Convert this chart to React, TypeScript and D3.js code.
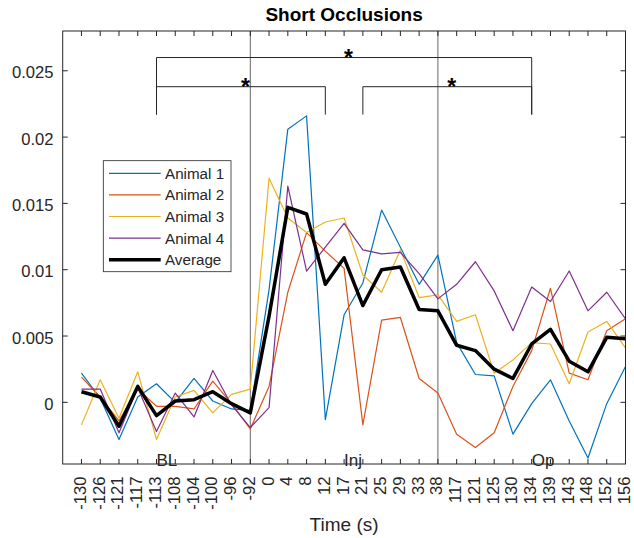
import React from "react";
import * as d3 from "d3";

const timeLabels = ["-130","-126","-121","-117","-113","-108","-104","-100","-96","-92","0","4","8","12","17","21","25","29","33","38","117","121","125","130","134","139","143","148","152","156"];

const animal1 = [0.0022,0.0003,-0.0028,0.0004,0.0014,0.0000,0.0018,0.0001,-0.0005,-0.0006,0.0085,0.0206,0.0216,-0.0013,0.0066,0.0090,0.0145,0.0117,0.0089,0.0111,0.0045,0.0021,0.0020,-0.0024,-0.0001,0.0017,-0.0014,-0.0042,-0.0001,0.0027];
const animal2 = [0.0019,0.0004,-0.0014,0.0010,-0.0003,-0.0003,-0.0005,0.0016,-0.0001,-0.0020,0.0012,0.0083,0.0128,0.0114,0.0101,-0.0017,0.0062,0.0064,0.0018,0.0007,-0.0024,-0.0034,-0.0023,0.0012,0.0039,0.0086,0.0022,0.0017,0.0054,0.0063];
const animal3 = [-0.0017,0.0017,-0.0012,0.0023,-0.0028,0.0004,0.0009,-0.0008,0.0006,0.0010,0.0169,0.0139,0.0128,0.0136,0.0139,0.0096,0.0083,0.0115,0.0079,0.0081,0.0061,0.0066,0.0022,0.0032,0.0045,0.0044,0.0014,0.0053,0.0061,0.0041];
const animal4 = [0.0010,0.0010,-0.0023,0.0011,-0.0022,0.0007,-0.0011,0.0024,-0.0002,-0.0019,-0.0004,0.0163,0.0099,0.0117,0.0135,0.0115,0.0112,0.0113,0.0097,0.0078,0.0089,0.0106,0.0084,0.0054,0.0087,0.0076,0.0099,0.0069,0.0083,0.0063];
const average = [0.0008,0.0004,-0.0018,0.0012,-0.0010,0.0001,0.0002,0.0008,-0.0001,-0.0008,0.0065,0.0147,0.0142,0.0089,0.0109,0.0073,0.0100,0.0102,0.0070,0.0069,0.0043,0.0039,0.0025,0.0018,0.0044,0.0055,0.0031,0.0023,0.0049,0.0048];

const seriesNames = ["Animal 1","Animal 2","Animal 3","Animal 4","Average"];
const seriesColors = ["#0072BD","#D95319","#EDB120","#7E2F8E","#000000"];
const seriesWidths = [1.2,1.2,1.2,1.2,3.5];
const seriesData = [animal1, animal2, animal3, animal4, average];

const yTicks = [0, 0.005, 0.01, 0.015, 0.02, 0.025];
const yTickLabels = ["0","0.005","0.01","0.015","0.02","0.025"];

const phaseLabels = ["BL","Inj","Op"];
const phasePositions = [5, 15, 25];
const phaseLines = [10, 20];

// significance brackets: [start pos, end pos, bar level, leg bottom]
const brackets = [
  [5, 25, 0.026, 0.0217],
  [5, 14, 0.0238, 0.0217],
  [16, 25, 0.0238, 0.0217],
];

const FONT = "'Liberation Sans', Arial, Helvetica, sans-serif";
const AX = "#262626";

export default function App() {
  const L = 62.7, R = 625.5, T = 31, B = 464;
  const x = d3.scaleLinear().domain([0, 30]).range([L, R]);
  const y = d3.scaleLinear().domain([-0.00465, 0.028]).range([B, T]);
  const line = d3.line<number>().x((_, i) => x(i + 1)).y((v) => y(v));
  const positions = d3.range(1, 31);

  return (
    <svg width={634} height={538} style={{ position: "absolute", left: 0, top: 0, background: "#fff" }} fontFamily={FONT}>
      <rect x={0} y={0} width={634} height={538} fill="#fff" />
      {phaseLines.map((p) => (
        <line key={p} x1={x(p)} x2={x(p)} y1={T} y2={B} stroke="#404040" strokeWidth={0.8} />
      ))}
      {seriesData.map((d, i) => (
        <path key={i} d={line(d) || ""} fill="none" stroke={seriesColors[i]} strokeWidth={seriesWidths[i]} strokeLinejoin="round" />
      ))}
      {brackets.map((b, i) => {
        const [s, e, lvl, bot] = b;
        const p = `M${x(s)},${y(bot)}V${y(lvl)}H${x(e)}V${y(bot)}`;
        return (
          <g key={i}>
            <path d={p} fill="none" stroke={AX} strokeWidth={1} />
            <text x={x((s + e) / 2)} y={y(lvl) + 8.5} fontSize={23} fontWeight="bold" fill="#000">*</text>
          </g>
        );
      })}
      <rect x={L} y={T} width={R - L} height={B - T} fill="none" stroke={AX} strokeWidth={1} />
      {positions.map((p) => (
        <g key={p}>
          <line x1={x(p)} x2={x(p)} y1={B} y2={B - 5} stroke={AX} strokeWidth={1} />
          <line x1={x(p)} x2={x(p)} y1={T} y2={T + 5} stroke={AX} strokeWidth={1} />
          <text transform={`translate(${x(p) + 4.5},${476.5}) rotate(-90)`} textAnchor="end" fontSize={16.6} fill={AX}>
            {timeLabels[p - 1]}
          </text>
        </g>
      ))}
      {yTicks.map((v, i) => (
        <g key={v}>
          <line x1={L} x2={L + 5} y1={y(v)} y2={y(v)} stroke={AX} strokeWidth={1} />
          <line x1={R} x2={R - 5} y1={y(v)} y2={y(v)} stroke={AX} strokeWidth={1} />
          <text x={53.5} y={y(v) + 7.5} textAnchor="end" fontSize={16.6} fill={AX}>{yTickLabels[i]}</text>
        </g>
      ))}
      {phaseLabels.map((t, i) => (
        <text key={t} x={x(phasePositions[i])} y={466} fontSize={17} fill={AX}>{t}</text>
      ))}
      <text x={(L + R) / 2} y={20.7} textAnchor="middle" fontSize={19} fontWeight="bold" fill="#000">Short Occlusions</text>
      <text x={(L + R) / 2} y={531} textAnchor="middle" fontSize={19} fill={AX}>Time (s)</text>
      <g>
        <rect x={103.3} y={160.7} width={127.7} height={111} fill="#fff" stroke={AX} strokeWidth={0.8} />
        {seriesNames.map((n, i) => {
          const ry = 173.3 + i * 21.6;
          return (
            <g key={n}>
              <line x1={109} x2={160.7} y1={ry} y2={ry} stroke={seriesColors[i]} strokeWidth={seriesWidths[i]} />
              <text x={165} y={ry + 5.5} fontSize={15.2} fill={AX}>{n}</text>
            </g>
          );
        })}
      </g>
    </svg>
  );
}
